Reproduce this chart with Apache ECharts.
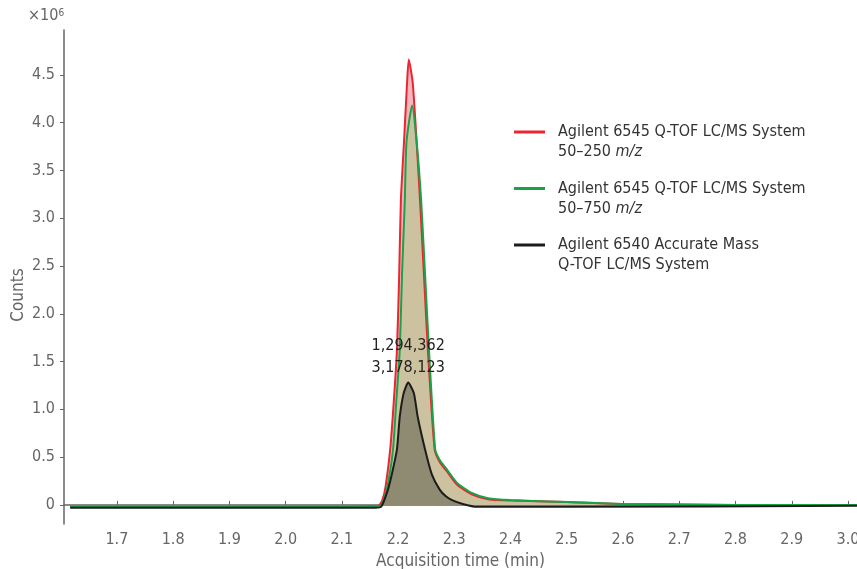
<!DOCTYPE html>
<html>
<head>
<meta charset="utf-8">
<script src="https://cdn.jsdelivr.net/npm/echarts@6/dist/echarts.min.js"></script>
<style>
  html, body { margin: 0; padding: 0; background: #fff; }
  #chart { width: 857px; height: 569px; }
</style>
</head>
<body>
<div id="chart"></div>
<script>
// 数据
var seriesNames = [
  'Agilent 6545 Q-TOF LC/MS System 50–250 m/z',
  'Agilent 6545 Q-TOF LC/MS System 50–750 m/z',
  'Agilent 6540 Accurate Mass Q-TOF LC/MS System'
]
var redTime = [1.617, 2.100, 2.165, 2.172, 2.178, 2.186, 2.192, 2.198, 2.202, 2.205, 2.211, 2.216, 2.219, 2.226, 2.233, 2.239, 2.246, 2.253, 2.265, 2.274, 2.287, 2.305, 2.331, 2.360, 2.400, 2.500, 2.600, 2.800, 3.016]
var redCounts = [-0.02, -0.02, -0.01, 0.05, 0.2, 0.58, 1.05, 1.62, 2.41, 3.19, 3.85, 4.42, 4.66, 4.42, 3.8, 3.19, 2.41, 1.62, 0.58, 0.45, 0.35, 0.21, 0.11, 0.06, 0.045, 0.03, 0.01, 0.0, 0.0]
var greenTime = [1.617, 2.100, 2.168, 2.176, 2.183, 2.191, 2.197, 2.203, 2.207, 2.212, 2.215, 2.225, 2.233, 2.241, 2.248, 2.255, 2.266, 2.274, 2.287, 2.305, 2.331, 2.360, 2.400, 2.500, 2.600, 2.800, 3.016]
var greenCounts = [-0.02, -0.02, -0.01, 0.08, 0.25, 0.58, 1.1, 1.62, 2.41, 3.19, 3.8, 4.18, 3.8, 3.19, 2.41, 1.62, 0.58, 0.47, 0.37, 0.23, 0.125, 0.07, 0.05, 0.03, 0.01, 0.0, 0.0]
var blackTime = [1.617, 2.160, 2.170, 2.182, 2.190, 2.198, 2.203, 2.210, 2.218, 2.228, 2.235, 2.248, 2.260, 2.274, 2.285, 2.296, 2.315, 2.340, 2.500, 3.016]
var blackCounts = [-0.03, -0.03, -0.02, 0.16, 0.35, 0.58, 0.92, 1.17, 1.28, 1.17, 0.92, 0.58, 0.32, 0.16, 0.09, 0.05, 0.01, -0.02, -0.02, -0.01]
var annotation = ['1,294,362', '3,178,123']
var xTicks = [1.7, 1.8, 1.9, 2.0, 2.1, 2.2, 2.3, 2.4, 2.5, 2.6, 2.7, 2.8, 2.9, 3.0]
var yTicks = [0, 0.5, 1.0, 1.5, 2.0, 2.5, 3.0, 3.5, 4.0, 4.5]

var lineColors = ['#ec2530', '#19a24a', '#1c1c1c']
var fillColors = ['#f5b7bf', '#cdc29f', '#8f8b72']
var font = '"Liberation Sans Narrow", "DejaVu Sans Condensed", sans-serif'

function pairs(t, v) {
  var out = []
  for (var i = 0; i < t.length; i++) out.push([t[i], v[i]])
  return out
}
var data = [pairs(redTime, redCounts), pairs(greenTime, greenCounts), pairs(blackTime, blackCounts)]

var series = []
// 面积（先画）
for (var i = 0; i < 3; i++) {
  series.push({
    name: 'fill' + i,
    type: 'line',
    data: data[i],
    symbol: 'none',
    smooth: 0.2,
    lineStyle: { width: 0 },
    areaStyle: { color: fillColors[i], opacity: 1 },
    silent: true,
    z: 1
  })
}
// 线
for (var j = 0; j < 3; j++) {
  var s = {
    name: seriesNames[j],
    type: 'line',
    data: data[j],
    symbol: 'none',
    smooth: 0.2,
    color: lineColors[j],
    lineStyle: { width: 2, color: lineColors[j] },
    z: 3
  }
  if (j === 2) {
    s.markPoint = {
      symbol: 'circle',
      symbolSize: 0,
      data: [{ coord: [2.218, 1.28] }],
      label: {
        show: true,
        position: 'top',
        distance: 4,
        formatter: annotation.join('\n'),
        fontFamily: font,
        fontSize: 16,
        lineHeight: 22,
        color: '#222'
      }
    }
  }
  series.push(s)
}

var chart = echarts.init(document.getElementById('chart'))
var option = {
  animation: false,
  backgroundColor: '#fff',
  grid: { left: 64, top: 30, right: 0, bottom: 45, outerBoundsMode: 'none' },
  legend: {
    data: seriesNames,
    orient: 'vertical',
    left: 514,
    top: 107,
    padding: 0,
    itemGap: 3.5,
    itemWidth: 31,
    itemHeight: 3,
    icon: 'rect',
    selectedMode: false,
    formatter: function(name) {
      if (name === seriesNames[0]) return '{p|}\n{a|Agilent 6545 Q-TOF LC/MS System}\n{a|50–250 }{i|m/z}'
      if (name === seriesNames[1]) return '{p|}\n{a|Agilent 6545 Q-TOF LC/MS System}\n{a|50–750 }{i|m/z}'
      return '{p|}\n{a|Agilent 6540 Accurate Mass}\n{a|Q-TOF LC/MS System}'
    },
    textStyle: {
      padding: [0, 0, 0, 8],
      rich: {
        p: { fontSize: 10, lineHeight: 20 },
        a: { fontFamily: font, fontSize: 16, lineHeight: 20, color: '#333' },
        i: { fontFamily: font, fontSize: 16, lineHeight: 20, color: '#333', fontStyle: 'italic' }
      }
    }
  },
  xAxis: {
    type: 'value',
    min: 1.606,
    max: 3.016,
    name: 'Acquisition time (min)',
    nameLocation: 'middle',
    nameGap: 28,
    nameTextStyle: { fontFamily: font, fontSize: 17, color: '#666' },
    axisLine: { lineStyle: { color: '#666', width: 1.5 } },
    axisTick: { show: true, inside: true, length: 4, customValues: xTicks, lineStyle: { color: '#666' } },
    axisLabel: {
      customValues: xTicks,
      margin: 8,
      fontFamily: font,
      fontSize: 16,
      color: '#666',
      formatter: function(v) { return v.toFixed(1) }
    },
    splitLine: { show: false }
  },
  yAxis: {
    type: 'value',
    min: -0.2,
    max: 4.97,
    name: 'Counts',
    nameLocation: 'middle',
    nameGap: 37,
    nameMoveOverlap: false,
    nameTextStyle: { fontFamily: font, fontSize: 17, color: '#666', padding: [0, 36, 0, 0] },
    axisLine: { show: true, lineStyle: { color: '#666', width: 1.5 } },
    axisTick: { show: true, length: 4, customValues: yTicks, lineStyle: { color: '#666' } },
    axisLabel: {
      customValues: yTicks,
      margin: 9,
      fontFamily: font,
      fontSize: 16,
      color: '#666',
      formatter: function(v) { return v === 0 ? '0' : v.toFixed(1) }
    },
    splitLine: { show: false }
  },
  graphic: [{
    type: 'text',
    left: 28,
    top: 8,
    style: {
      text: '{b|×10}{s|6}',
      rich: {
        b: { fontFamily: font, fontSize: 16, fill: '#666', verticalAlign: 'bottom' },
        s: { fontFamily: font, fontSize: 10, fill: '#666', verticalAlign: 'top', padding: [0, 0, 6, 0] }
      }
    }
  }],
  series: series
}
chart.setOption(option)
</script>
</body>
</html>
